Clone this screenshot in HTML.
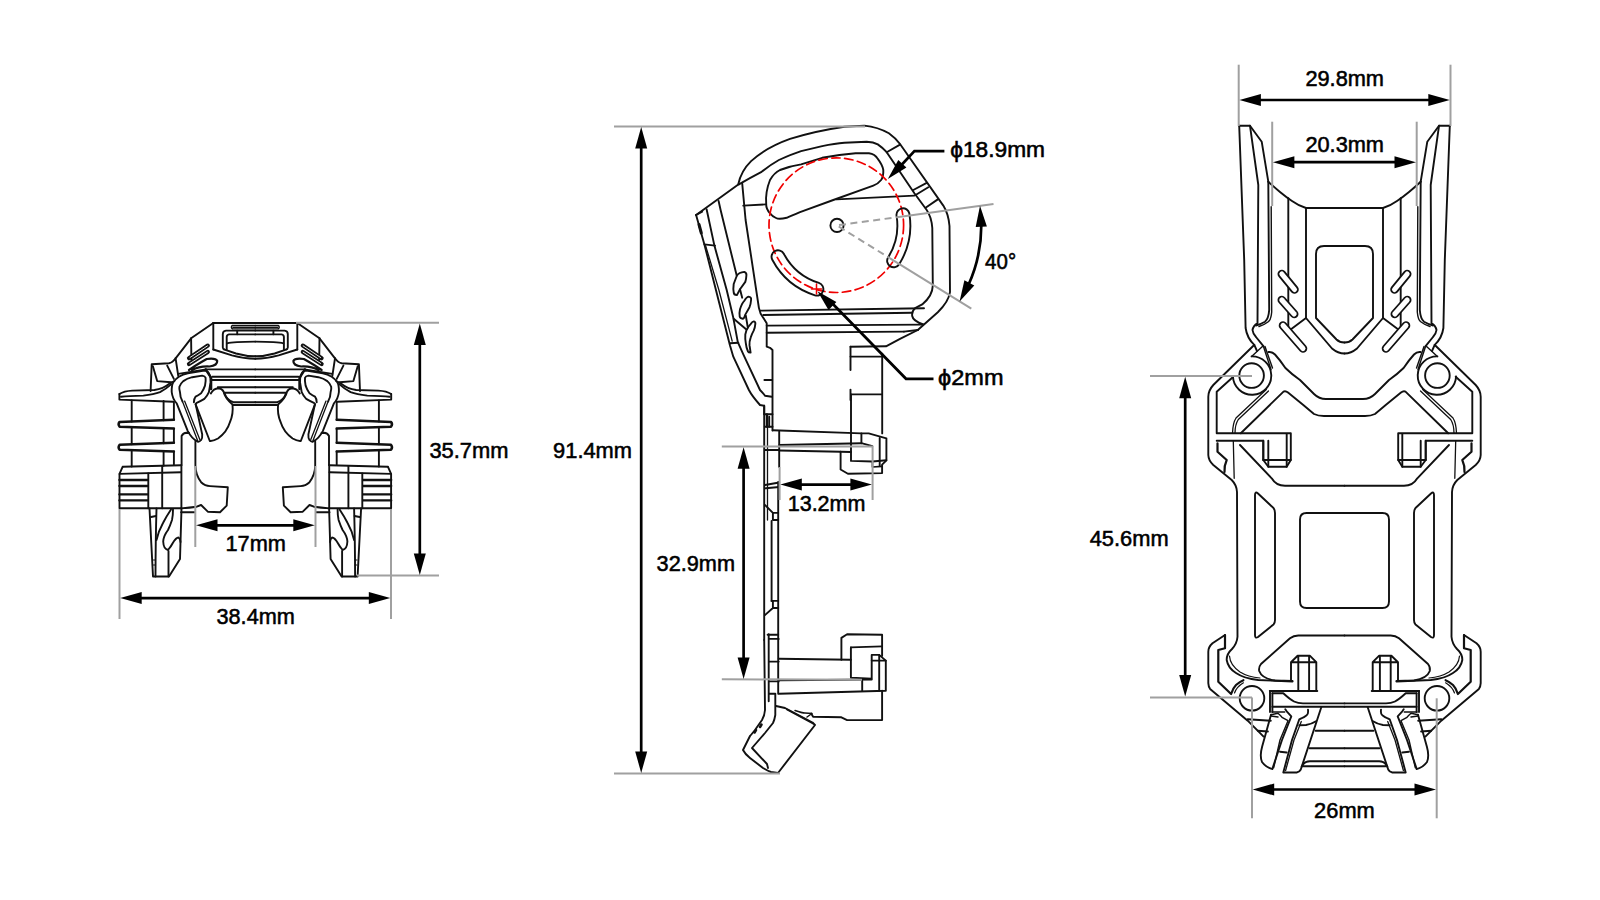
<!DOCTYPE html>
<html><head><meta charset="utf-8"><style>
html,body{margin:0;padding:0;background:#fff;}
svg{display:block;}
text{font-family:"Liberation Sans",sans-serif;fill:#000;stroke:#000;stroke-width:0.55px;}
</style></head><body>
<svg width="1600" height="900" viewBox="0 0 1600 900">
<rect width="1600" height="900" fill="#fff"/>
<g fill="none" stroke="#111" stroke-width="1.9" stroke-linejoin="round" stroke-linecap="round">
<g><path d="M213.3,323 L255.3,323"/>
<path d="M213.3,323 L213.3,349.5"/>
<path d="M213.3,349.5 L232,355.4 Q244,358.8 255.3,358.8"/>
<path d="M223.9,349.4 L236,353.5 Q246,356.3 255.3,356.3"/>
<path d="M232.5,325.4 L255.3,325.4 M232.5,328.9 L255.3,328.9 M232.5,325.4 Q230.2,327.1 232.5,328.9" stroke-width="1.4"/>
<path d="M233,327.2 L255.3,327.2" stroke-width="1.6"/>
<path d="M255.3,330.6 L226,330.6 Q222.8,331 222.8,334 L222.8,347.5 Q223,349.2 224.2,349.4"/>
<path d="M255.3,334.4 L229,334.4 Q226.7,334.8 226.7,337 L226.7,349.8"/>
<path d="M227.2,343.3 Q233,341.8 255.3,341.6"/>
<path d="M237.2,330.6 L237.2,334.2"/>
<path d="M213.3,323 L191.1,338.3 L175.6,358.3 Q172.5,362.8 168.9,363.3 L151.7,364.2 L150.6,391"/>
<path d="M191.1,338.3 L191.4,360"/>
<path d="M152.8,366.1 L157.2,381.1 L171.1,382.2"/>
<path d="M167.2,365.6 L173.9,378.9"/>
<path d="M175.6,358.3 L178.3,376.1"/>
<path d="M178.3,373.9 L206.1,369.4"/>
<path d="M189,358.2 L207.8,345.6 M189,364.1 L207.8,351.9" stroke-width="4.2"/>
<path d="M190,357.5 L207.4,345.9 M190,363.4 L207.4,352.2" stroke="#fff" stroke-width="0.9"/>
<path d="M189,370 Q196,365 206.7,359 Q216,357.8 217.2,361 Q217.5,365.5 209.4,366.5 Q199,366 192,370.2" stroke-width="2.2"/>
<path d="M205.6,369.4 L255.3,369.4"/>
<path d="M212.2,376.7 L255.3,376.7"/>
<path d="M211.6,380 L255.3,380"/>
<path d="M217.8,387.2 L255.3,387.2"/>
<path d="M224.4,392.8 L255.3,392.8"/>
<path d="M224.4,392.8 Q226.5,400 233.3,402.2 L255.3,402.2"/>
<path d="M232.8,405 L255.3,405"/>
<path d="M205.6,369.4 L211.1,377.8 L211.1,389" stroke-width="2.4"/>
<path d="M210.8,393.5 Q213.5,388.5 218.5,388.2 Q222,388.5 223.5,391.5 Q225,398 232.5,404.5 Q233.5,414 230,422 Q227,432 218,438.5 Q212.5,441.5 209.8,441 L195.6,404.4"/>
<path d="M119.4,394 L119.4,399.6 L173.3,401.7"/>
<path d="M119.4,394 Q124,391 132.2,390.6 L154.4,390 Q163,389 170,383.3 L174.4,381"/>
<path d="M121,396.7 Q128,396.2 143.3,395.6 Q154,394.5 160,392.2 Q166,389 171.1,384.4"/>
<path d="M173.9,419.7 L119.6,421.9 Q117.6,424.3 119.6,426.7 L173.9,428.6" stroke-width="2.5"/>
<path d="M173.9,442.8 L119.6,444.7 Q117.6,447.2 119.6,449.7 L173.9,451.4" stroke-width="2.5"/>
<path d="M131.7,400.5 L131.7,421.5 M131.7,427 L131.7,444.3 M131.7,450 L131.7,466.5"/>
<path d="M173.9,402 L173.9,419.7 M173.9,428.6 L173.9,442.8 M173.9,451.4 L173.9,464.6"/>
<path d="M176.7,403.3 Q172.5,399 171.7,392 Q171.5,385 173.3,382.2 Q176,378.5 178.9,376.7 Q183,374.3 187.8,373.3 L204.4,370.6 Q208.5,371 209.4,374.4 Q211,378 210.6,382.2 L208.9,392.2 Q207,396.5 204.4,398.9 Q200,401.5 196.7,402.8 L195.6,404 L202.2,434.4 Q202.5,438.5 201.1,440 Q199.5,442 197.8,441.7 Q192,439 187.8,431.1 Z"/>
<path d="M182.5,401.5 Q180,397 180,392.2 Q179,389 179.4,386.7 Q180.5,383.5 183.3,381.1 Q187,378.5 192.2,377.2 L202.2,375.6 Q205,376 205.6,377.8 Q206,381 205,385.6 Q203.5,390 201.1,393.3 Q198,395.5 195.6,396.7 Q193.8,399 193.9,402.2"/>
<path d="M182.5,401.5 L197.6,440.4 M184.6,401.1 L199.8,439.4" stroke-width="1.3"/>
<path d="M181.6,465 L181.6,436 Q183,433 186.7,432.8 L189,433"/>
<path d="M195.4,441.5 L195.4,465.5 Q195.6,475 201.1,482.2 Q205,486 210,486.1 L227.8,487.2 L226.7,505.6 L220,512.2 L207.8,511.7 L201.1,505 L196.7,506.7 Q190,507.6 181.1,508.4"/>
<path d="M123,466.7 L181.1,465.3"/>
<path d="M122.6,466.8 L119.5,473.9 L119.5,508.3 L181.1,508.3"/>
<path d="M119.6,473.9 L181.1,472.2"/>
<path d="M148.3,473.5 L148.3,508.3"/>
<path d="M162.2,466.4 L162.2,508.3"/>
<path d="M181.4,465.3 L181.4,508.3"/>
<path d="M181.1,512.2 L194.4,512.2"/>
<path d="M119.4,480 L147.5,480 M119.4,486 L147.5,486 M119.4,494.4 L147.5,494.4 M119.4,500.4 L147.5,500.4" stroke-width="2.3"/>
<path d="M149.5,508.5 L153,576.5 L169,576.5 L180,559 L181.5,508.5"/>
<path d="M156.5,508.5 Q155.6,540 155.5,576.5"/>
<path d="M151,517 L156,516"/>
<path d="M171,509.5 Q166,517 163,523 Q158.5,531 156.5,540"/>
<path d="M173,509.5 Q173,516 172,520 Q170,526 168,530 Q163.5,536 163.2,541.5 Q163.5,549 168,550 Q171,546.5 172.5,543.5 Q176,537.5 178.5,537.5 Q180.5,539 180.5,542"/>
<path d="M168.5,551 L168.5,576.5"/>
<path d="M153.5,560 L155.5,560 M153.5,565 L155.5,565" stroke-width="1"/><path d="M163.6,401 L163.6,420.2 M163.6,428.3 L163.6,443.2 M163.6,451.2 L163.6,465.8"/></g>
<g transform="translate(510.6,0) scale(-1,1)"><path d="M213.3,323 L255.3,323"/>
<path d="M213.3,323 L213.3,349.5"/>
<path d="M213.3,349.5 L232,355.4 Q244,358.8 255.3,358.8"/>
<path d="M223.9,349.4 L236,353.5 Q246,356.3 255.3,356.3"/>
<path d="M232.5,325.4 L255.3,325.4 M232.5,328.9 L255.3,328.9 M232.5,325.4 Q230.2,327.1 232.5,328.9" stroke-width="1.4"/>
<path d="M233,327.2 L255.3,327.2" stroke-width="1.6"/>
<path d="M255.3,330.6 L226,330.6 Q222.8,331 222.8,334 L222.8,347.5 Q223,349.2 224.2,349.4"/>
<path d="M255.3,334.4 L229,334.4 Q226.7,334.8 226.7,337 L226.7,349.8"/>
<path d="M227.2,343.3 Q233,341.8 255.3,341.6"/>
<path d="M237.2,330.6 L237.2,334.2"/>
<path d="M213.3,323 L191.1,338.3 L175.6,358.3 Q172.5,362.8 168.9,363.3 L151.7,364.2 L150.6,391"/>
<path d="M191.1,338.3 L191.4,360"/>
<path d="M152.8,366.1 L157.2,381.1 L171.1,382.2"/>
<path d="M167.2,365.6 L173.9,378.9"/>
<path d="M175.6,358.3 L178.3,376.1"/>
<path d="M178.3,373.9 L206.1,369.4"/>
<path d="M189,358.2 L207.8,345.6 M189,364.1 L207.8,351.9" stroke-width="4.2"/>
<path d="M190,357.5 L207.4,345.9 M190,363.4 L207.4,352.2" stroke="#fff" stroke-width="0.9"/>
<path d="M189,370 Q196,365 206.7,359 Q216,357.8 217.2,361 Q217.5,365.5 209.4,366.5 Q199,366 192,370.2" stroke-width="2.2"/>
<path d="M205.6,369.4 L255.3,369.4"/>
<path d="M212.2,376.7 L255.3,376.7"/>
<path d="M211.6,380 L255.3,380"/>
<path d="M217.8,387.2 L255.3,387.2"/>
<path d="M224.4,392.8 L255.3,392.8"/>
<path d="M224.4,392.8 Q226.5,400 233.3,402.2 L255.3,402.2"/>
<path d="M232.8,405 L255.3,405"/>
<path d="M205.6,369.4 L211.1,377.8 L211.1,389" stroke-width="2.4"/>
<path d="M210.8,393.5 Q213.5,388.5 218.5,388.2 Q222,388.5 223.5,391.5 Q225,398 232.5,404.5 Q233.5,414 230,422 Q227,432 218,438.5 Q212.5,441.5 209.8,441 L195.6,404.4"/>
<path d="M119.4,394 L119.4,399.6 L173.3,401.7"/>
<path d="M119.4,394 Q124,391 132.2,390.6 L154.4,390 Q163,389 170,383.3 L174.4,381"/>
<path d="M121,396.7 Q128,396.2 143.3,395.6 Q154,394.5 160,392.2 Q166,389 171.1,384.4"/>
<path d="M173.9,419.7 L119.6,421.9 Q117.6,424.3 119.6,426.7 L173.9,428.6" stroke-width="2.5"/>
<path d="M173.9,442.8 L119.6,444.7 Q117.6,447.2 119.6,449.7 L173.9,451.4" stroke-width="2.5"/>
<path d="M131.7,400.5 L131.7,421.5 M131.7,427 L131.7,444.3 M131.7,450 L131.7,466.5"/>
<path d="M173.9,402 L173.9,419.7 M173.9,428.6 L173.9,442.8 M173.9,451.4 L173.9,464.6"/>
<path d="M176.7,403.3 Q172.5,399 171.7,392 Q171.5,385 173.3,382.2 Q176,378.5 178.9,376.7 Q183,374.3 187.8,373.3 L204.4,370.6 Q208.5,371 209.4,374.4 Q211,378 210.6,382.2 L208.9,392.2 Q207,396.5 204.4,398.9 Q200,401.5 196.7,402.8 L195.6,404 L202.2,434.4 Q202.5,438.5 201.1,440 Q199.5,442 197.8,441.7 Q192,439 187.8,431.1 Z"/>
<path d="M182.5,401.5 Q180,397 180,392.2 Q179,389 179.4,386.7 Q180.5,383.5 183.3,381.1 Q187,378.5 192.2,377.2 L202.2,375.6 Q205,376 205.6,377.8 Q206,381 205,385.6 Q203.5,390 201.1,393.3 Q198,395.5 195.6,396.7 Q193.8,399 193.9,402.2"/>
<path d="M182.5,401.5 L197.6,440.4 M184.6,401.1 L199.8,439.4" stroke-width="1.3"/>
<path d="M181.6,465 L181.6,436 Q183,433 186.7,432.8 L189,433"/>
<path d="M195.4,441.5 L195.4,465.5 Q195.6,475 201.1,482.2 Q205,486 210,486.1 L227.8,487.2 L226.7,505.6 L220,512.2 L207.8,511.7 L201.1,505 L196.7,506.7 Q190,507.6 181.1,508.4"/>
<path d="M123,466.7 L181.1,465.3"/>
<path d="M122.6,466.8 L119.5,473.9 L119.5,508.3 L181.1,508.3"/>
<path d="M119.6,473.9 L181.1,472.2"/>
<path d="M148.3,473.5 L148.3,508.3"/>
<path d="M162.2,466.4 L162.2,508.3"/>
<path d="M181.4,465.3 L181.4,508.3"/>
<path d="M181.1,512.2 L194.4,512.2"/>
<path d="M119.4,480 L147.5,480 M119.4,486 L147.5,486 M119.4,494.4 L147.5,494.4 M119.4,500.4 L147.5,500.4" stroke-width="2.3"/>
<path d="M149.5,508.5 L153,576.5 L169,576.5 L180,559 L181.5,508.5"/>
<path d="M156.5,508.5 Q155.6,540 155.5,576.5"/>
<path d="M151,517 L156,516"/>
<path d="M171,509.5 Q166,517 163,523 Q158.5,531 156.5,540"/>
<path d="M173,509.5 Q173,516 172,520 Q170,526 168,530 Q163.5,536 163.2,541.5 Q163.5,549 168,550 Q171,546.5 172.5,543.5 Q176,537.5 178.5,537.5 Q180.5,539 180.5,542"/>
<path d="M168.5,551 L168.5,576.5"/>
<path d="M153.5,560 L155.5,560 M153.5,565 L155.5,565" stroke-width="1"/></g>
<g><path d="M738.3,184.2 Q741,171 751.1,161.1 Q766,147.5 790,138.9 Q815,131 844.4,126.7 L864.4,125.6 Q878,127 888.9,133.3 Q896,138.5 900,144 L943.3,205.6 Q948.5,214 949.5,226 L950,292.2 Q948.5,302 937.8,312.2 L917.8,330"/>
<path d="M738.9,184.4 Q750,178 761.1,172.2 Q770,165 778.9,160 Q792,154 801.1,151.1 L822.2,146.1 Q835,143.5 844.4,142.8 L866.7,141.7 Q873.5,142 877.8,144.4 Q883,148 886.7,152.2 L914.4,193.3 L926.7,210 Q931.5,217 932.3,228 L932.8,285.6 Q932.5,296 922.2,304.4 L915.6,307.8 Q911.5,311 912.2,316 Q913,321 923.3,324.4"/>
<path d="M886.7,152.2 L900,144.6 M913.3,190 L926.7,182.8 M915.6,195 L928.3,187.2 M925.6,207.8 L937.8,199.4"/>
<path d="M770,213.3 Q766,209 766.2,204 Q765.2,192 770,180 Q774,173 780,170 Q790,166 801.1,164.4 L822.2,157.8 Q840,154.5 855.6,153.3 L868.9,153.3 Q875,154 877.8,158.9 Q882.5,165 883.3,170 Q883.6,176.5 881.1,180 Q878,184 873.3,185.6 L833.3,200 L800,212.2 Q790,216.5 786.7,217.8 Q778.9,219.6 776,218 Q772,216.2 770,213.3Z"/>
<path d="M836.7,199.4 L914.4,195.6"/>
<path d="M743.3,205.6 L765.6,204.4"/>
<path d="M696.1,215 L738.3,184.4"/>
<path d="M742.2,183.3 L745.6,220 L758.9,307.8 Q760,314 763.3,317.8 L766.7,323.3 L766.7,346.7 L770,347.8 L772.5,350 L772.5,430.5"/>
<path d="M706.6,209.3 L714.4,245.6 L726.7,290 L733.3,317.8 L737.8,342.2 L743.3,354.4 L760,390 Q764,394 765,395.8 L771.7,396.7"/>
<path d="M718.6,201 L720.6,210 L736.7,275.6"/>
<path d="M696.1,215 L704.4,244.4 L730,345.6 L733.3,356.7 L748.9,390 Q752,396 760,405 L764.2,405.8 L764.2,640"/>
<path d="M702.2,211.7 L696.1,215"/>
<path d="M704.4,244.4 L715,245.6"/>
<path d="M705.6,245.6 L718.9,290 L732.2,341.1" stroke-width="1.3"/>
<path d="M730,343.3 L738.3,342.8"/>
<path d="M699,224.5 L701.3,233" stroke-width="3"/>
<path d="M736.9,275.5 Q739,272.5 744.3,271.9 Q746.8,272.8 746.4,275.5 Q746.2,279 745.3,281.9 L740,289.3 L736.9,295.1 Q733.8,295 733.7,292.4 Q733,289 733.7,284 Z"/>
<path d="M740,289.3 L742.2,297.7 M745.8,315.6 L747.8,327.5"/>
<path d="M740,309.3 Q742,303 744.3,300.9 Q746.5,297 748.5,296.6 Q751.5,297 751.1,299.8 Q750.8,304 749.5,307.2 L745.3,314.6 Q744,318.8 742.7,318.8 Q740,318.5 739.7,316.7 Q739,314 740,309.3 Z"/>
<path d="M746.4,330.4 Q748.5,326 750.6,324.1 Q752.5,321.5 753.8,321.4 Q755.8,322 755.3,324.1 Q755,327.5 753.8,330.4 Q751.8,334 750.6,337.8 Q749.2,341.5 749.5,345.2 L750.6,352.6 Q748.5,352.5 748,351.5 Q746.2,347.5 745.8,343.1 Q745,338.5 745.3,334.6 Z"/>
<path d="M733.7,318.8 L746.4,329.5"/>
<path d="M760.6,310.6 L924,308.3 M763.3,315 L912,312.8 M766.7,325.6 L923.3,324.6 M766.7,332.8 L904,331.6"/>
<path d="M904,331.6 L917.8,330"/>
<path d="M850.5,346.8 L886,346.3 L900,338.9 L917.8,330"/>
<path d="M850.5,346.8 L850.5,370.1 M850.5,389.6 L850.5,400"/>
<path d="M882.2,353.6 L882.2,433.4"/>
<path d="M850.5,356.6 L882.2,356.6"/>
<path d="M851,394.4 L881.5,394.4"/>
<path d="M851,394.5 L851,460.9 L872.4,461.5 L886.4,460.3"/>
<path d="M772.7,430.3 L861.4,433.4 L868.7,433.4 L886.4,438.3 L886.4,460.3 L882.1,464.6 L882.1,473.1 L847.9,473.7 L840.6,469.5 L840.6,451.7 L779.4,450.5"/>
<path d="M779.2,431.7 L779.2,467"/>
<path d="M840.6,451.7 L851,452"/>
<path d="M872.4,461.5 L872.4,467 L882.1,466.4" stroke-width="1.6"/>
<path d="M779.4,445 L861.4,443.2 L872.4,446.2"/>
<path d="M861.4,433.4 L861.4,443.2"/>
<path d="M879.7,438 L879.7,466"/>
<path d="M764.4,380 L772.2,380"/>
<path d="M767.5,414.2 L767.5,520" stroke-width="1.3"/>
<path d="M764.2,405.8 L764.2,414 M766.7,414.2 L766.7,426.7 M769.2,416.7 L769.2,426.7"/>
<path d="M764.2,414.2 L772.5,414.2 M764.8,426.7 L772.5,426.7"/>
<path d="M765,450 L779.2,450 M765,485 L779.2,482.5 M765.8,488.3 L779.2,487"/>
<path d="M778.2,482 L778.2,693.7"/>
<path d="M771.6,520.9 L771.6,600.9"/>
<path d="M764.9,504.9 L772.9,512.9 L778.2,512.9 M772.9,520 L778.2,520 M772.9,512.9 L772.9,520"/>
<path d="M771.6,600.9 L778.2,600.9 M764.9,615.1 L772.9,608 L778.2,608 M772.9,600.9 L772.9,608"/>
<path d="M767.6,634.7 L778.2,634.7"/>
<path d="M768.7,634.2 L768.7,701.2 M768.7,638.9 L778.7,638.9 M768.7,661.6 L778.7,661.6 M768.7,681.4 L778.7,681.4 M768.7,693.7 L775.3,693.7"/>
<path d="M778.7,658.7 L850.9,659.7"/>
<path d="M841.4,659.7 L841.4,637.9 L847.1,634.2 L882.1,634.7 L882.1,655.9"/>
<path d="M850.9,647.4 L882.1,646.4"/>
<path d="M850.9,647.4 L850.9,677.6 L871.7,678.6 L871.7,654.9 L879.2,654.9 L885.8,660.6 L885.8,690.8 L779.1,693.7"/>
<path d="M862.2,680.4 L862.2,690.8 M879.2,655 L879.2,690.8 M871.7,660.6 L885.8,660.6"/>
<path d="M779.1,680.4 L871.7,679.5"/>
<path d="M882.1,690.8 L882.1,720.1 L847.1,720.1 L841.4,717.3 L813.1,716.7 L811.2,713.5"/>
<path d="M764.2,640 L765,710 Q764.5,716 762,720 L755,730 Q751,735 750,736 L743,750 Q745,754 750,758 L763,768 Q768,771 771,772 L778,773 L815,725 L812.5,722.5 L785,708 L776,706"/>
<path d="M775.3,694 L775.3,715 Q774.5,720 773,723 L765,733 L752,748 L767,764 L768,768"/>
<path d="M787,709.5 L813,723.5"/>
<path d="M795,710.5 Q802,713 805,713 L812,713.5 L807,717" stroke-width="1.5"/>
<path d="M761.5,724.5 L760,727 M756,730 L754.5,732.5" stroke-width="2.6"/></g>
<circle cx="836.3" cy="225.2" r="67.3" stroke="#f00000" stroke-width="1.7" stroke-dasharray="8.5 4.5" fill="none"/>
<circle cx="837" cy="225.4" r="6.6"/>
<path d="M909.3,213.3 A73.3,73.3 0 0 1 899.2,264.2 A6.5,6.5 0 0 1 888.1,257.4 A60.3,60.3 0 0 0 896.5,215.4 A6.5,6.5 0 0 1 909.3,213.3Z"/>
<path d="M815.0,295.3 A73.3,73.3 0 0 1 772.3,259.8 A6.5,6.5 0 0 1 783.8,253.7 A60.3,60.3 0 0 0 818.9,282.9 A6.5,6.5 0 0 1 815.0,295.3Z"/>
<path d="M816.5,284 L816.5,294 M811.5,289 L821.5,289" stroke="#f00000" stroke-width="1.5"/>
<g><path d="M1239.2,125.8 L1250,125.8 L1261.7,141.7 L1268.3,181.7"/>
<path d="M1239.2,125.8 L1244.2,260 L1245.6,328 Q1247,338 1254.3,344.9"/>
<path d="M1250,125.8 L1258.3,185 L1257.5,323.3 Q1253.3,325.5 1252.5,330 Q1253,334 1256,337 L1263.2,345.8"/>
<path d="M1268.3,181.7 L1269.2,310 Q1268.5,319 1265,321.7 Q1261,324 1256,325.5"/>
<path d="M1271.2,206.7 L1271.7,312 Q1271,320 1268.3,321.7 Q1264,325 1259,326.5" stroke-width="1.4"/>
<path d="M1268.3,181.7 Q1274,187 1280,192 Q1286,197 1292,201 Q1299,206 1306,208 L1344.5,208"/>
<path d="M1288.3,198.3 L1288.3,330"/>
<path d="M1306,208 L1306,318 L1290,330"/>
<path d="M1316,254 Q1316,246 1324,246 L1344.5,246 M1316,254 L1316,318 L1336.5,339.5 Q1339.5,342.5 1344.5,342.5"/>
<path d="M1306,318 L1332,348.5 Q1338,353.5 1344.5,353.5"/>
<path d="M1281.8,274 L1294.5,289.5" stroke-width="8.6"/>
<path d="M1281.8,274 L1294.5,289.5" stroke="#fff" stroke-width="5"/>
<path d="M1281.8,300 L1294.2,314" stroke-width="8.6"/>
<path d="M1281.8,300 L1294.2,314" stroke="#fff" stroke-width="5"/>
<path d="M1283,325.5 L1303,348.5" stroke-width="8.6"/>
<path d="M1283,325.5 L1303,348.5" stroke="#fff" stroke-width="5"/>
<circle cx="1251.6" cy="375.6" r="12.3"/>
<path d="M1251.6,356.4 A19.2,19.2 0 1 1 1232.9,376.5"/>
<path d="M1251.6,356.4 L1263.2,345.8 L1271,369.5 M1265,346.5 L1272.5,368" stroke-width="1.4"/>
<path d="M1254.3,344.9 L1257,351"/>
<path d="M1253.4,345.8 L1213.3,385 Q1208.3,390.5 1208.3,396.7 L1208.3,455 Q1208.5,460.5 1213.3,465 L1231.7,480 Q1236.7,485 1237,492 L1237.5,636.7 Q1237,643.5 1232,649 Q1226.5,654 1226.7,660 Q1228,668 1236,673 Q1244,678.5 1258.3,680 L1292.5,681.5"/>
<path d="M1229.5,656 Q1230,665 1240,672 Q1248,677 1260,678" stroke-width="1.2"/>
<path d="M1233.3,376.7 L1216.7,391.7 L1216.7,433.3 L1290.8,433.3 L1290.8,460 L1286.7,466.7 L1268.3,466.7 L1263.3,460 L1263.3,440.8 L1216.7,440.8"/>
<path d="M1268.3,440.8 L1268.3,466.7 M1286.7,434 L1286.7,466.7 M1263.3,460 L1290.8,460"/>
<path d="M1217.5,443.3 L1217.5,451.7 L1226.7,460 Q1224,466 1224.5,472" stroke-width="2.2"/>
<path d="M1233.3,441 L1234.2,478.3" stroke-width="1.3"/>
<path d="M1266.3,389.5 L1236,418 Q1232.8,423 1232.5,433.3 M1268.5,391 L1238.3,419.5 Q1235,424.5 1235,433.3" stroke-width="1.3"/>
<path d="M1240.8,433.3 L1283.5,391.6 Q1285.5,390.5 1288,392.5 L1303.3,405 L1314,414 Q1318,416 1324,416 L1344.5,416"/>
<path d="M1268.5,352 Q1272,351.5 1275,354.5 Q1280,360 1285.4,368 Q1292,374.5 1300,380 L1314,394 Q1319,399 1326,399 L1344.5,399"/>
<path d="M1240,445 L1271.7,478.3 Q1276,485.8 1285,485.8 L1344.5,485.8"/>
<path d="M1255,495 Q1255,491 1258,493.5 L1273.5,508 Q1275,510 1275,513 L1275,620 Q1275,623 1273.5,624.5 L1258,637 Q1255,639 1255,635 Z"/>
<path d="M1300,519.5 Q1300,513 1306.5,513 L1344.5,513 M1300,519.5 L1300,601.5 Q1300,608 1306.5,608 L1344.5,608"/>
<path d="M1292.5,681 L1275,680.5 Q1262,678.5 1259.2,671 Q1258.5,667 1261,664 L1290,638.3 Q1293.5,635.5 1298.3,635.5 L1344.5,635.5"/>
<path d="M1291,681 L1291,662.2 L1297.6,655.7 L1309.8,655.7 L1316.3,662.2 L1316.3,691.1 M1291,662.2 L1316.3,662.2 M1298.3,655.7 L1298.3,691 M1309.1,655.7 L1309.1,691"/>
<path d="M1263.3,440.8 L1263.3,460"/>
<path d="M1225,635 L1212.5,643.3 Q1208.3,647 1208.3,651.7 L1208.3,683.1 Q1208.5,687 1210.1,688.9 L1247.7,720.7 L1263.6,736.6"/>
<path d="M1225,635 L1225,648.3 L1218.3,650 L1218.3,681.7 L1231.1,694 Q1233,688 1236,685 Q1240,681.5 1243.4,680.2" stroke-width="2.2"/>
<path d="M1234.5,693 Q1236.5,687 1243.4,682.8" stroke-width="1.2"/>
<circle cx="1252" cy="698.3" r="12.3"/>
<path d="M1247.7,719.2 L1270.8,720.7 M1257.8,730.8 L1267.9,731.5"/>
<path d="M1269.8,691 L1317.3,691"/>
<path d="M1270,691 L1270,712 M1272.4,693.3 L1272.4,712"/>
<path d="M1272.4,693.3 L1283.3,693.3 Q1290,699.5 1294,701.5 Q1298,703.4 1303,703.4 L1344.5,703.4"/>
<path d="M1272.4,706.8 L1344.5,706.8"/>
<path d="M1272,712 L1284.7,712 M1271,716 L1278,717" stroke-width="1.5"/>
<path d="M1271,714.7 L1262.1,746.7 Q1259.5,756 1262,762 Q1266,767.5 1272.3,769.1 L1282,740 L1291.3,716.3 L1286.7,711.3 L1285.3,709.3"/>
<path d="M1271,714.7 L1278,713.3 Q1281,716 1282,717.3 L1288,720.7 L1280,740 L1273.7,767.7" stroke-width="1.4"/>
<path d="M1308,709.7 Q1308.5,714 1306.7,715.3 Q1304,717.5 1301.3,718.3 L1299.3,719.3 L1292,740 L1283.3,772.5 L1296.7,772.5 Q1299.5,772 1300.8,769.5 L1321.3,707.3"/>
<path d="M1301.3,721.5 L1294,740 L1285.6,770.5" stroke-width="1.3"/>
<path d="M1316,721.3 Q1312,724 1306,725 L1299.3,725.3"/>
<path d="M1315.6,730.8 L1344.5,730.8 M1309.6,748.2 L1344.5,748.2"/>
<path d="M1301.7,766.7 Q1304,761.2 1309.8,761.2 L1344.5,761.2 M1303.5,766.2 L1344.5,766.2"/>
<path d="M1280,751.7 L1286.7,752.5"/></g>
<g transform="translate(2689.0,0) scale(-1,1)"><path d="M1239.2,125.8 L1250,125.8 L1261.7,141.7 L1268.3,181.7"/>
<path d="M1239.2,125.8 L1244.2,260 L1245.6,328 Q1247,338 1254.3,344.9"/>
<path d="M1250,125.8 L1258.3,185 L1257.5,323.3 Q1253.3,325.5 1252.5,330 Q1253,334 1256,337 L1263.2,345.8"/>
<path d="M1268.3,181.7 L1269.2,310 Q1268.5,319 1265,321.7 Q1261,324 1256,325.5"/>
<path d="M1271.2,206.7 L1271.7,312 Q1271,320 1268.3,321.7 Q1264,325 1259,326.5" stroke-width="1.4"/>
<path d="M1268.3,181.7 Q1274,187 1280,192 Q1286,197 1292,201 Q1299,206 1306,208 L1344.5,208"/>
<path d="M1288.3,198.3 L1288.3,330"/>
<path d="M1306,208 L1306,318 L1290,330"/>
<path d="M1316,254 Q1316,246 1324,246 L1344.5,246 M1316,254 L1316,318 L1336.5,339.5 Q1339.5,342.5 1344.5,342.5"/>
<path d="M1306,318 L1332,348.5 Q1338,353.5 1344.5,353.5"/>
<path d="M1281.8,274 L1294.5,289.5" stroke-width="8.6"/>
<path d="M1281.8,274 L1294.5,289.5" stroke="#fff" stroke-width="5"/>
<path d="M1281.8,300 L1294.2,314" stroke-width="8.6"/>
<path d="M1281.8,300 L1294.2,314" stroke="#fff" stroke-width="5"/>
<path d="M1283,325.5 L1303,348.5" stroke-width="8.6"/>
<path d="M1283,325.5 L1303,348.5" stroke="#fff" stroke-width="5"/>
<circle cx="1251.6" cy="375.6" r="12.3"/>
<path d="M1251.6,356.4 A19.2,19.2 0 1 1 1232.9,376.5"/>
<path d="M1251.6,356.4 L1263.2,345.8 L1271,369.5 M1265,346.5 L1272.5,368" stroke-width="1.4"/>
<path d="M1254.3,344.9 L1257,351"/>
<path d="M1253.4,345.8 L1213.3,385 Q1208.3,390.5 1208.3,396.7 L1208.3,455 Q1208.5,460.5 1213.3,465 L1231.7,480 Q1236.7,485 1237,492 L1237.5,636.7 Q1237,643.5 1232,649 Q1226.5,654 1226.7,660 Q1228,668 1236,673 Q1244,678.5 1258.3,680 L1292.5,681.5"/>
<path d="M1229.5,656 Q1230,665 1240,672 Q1248,677 1260,678" stroke-width="1.2"/>
<path d="M1233.3,376.7 L1216.7,391.7 L1216.7,433.3 L1290.8,433.3 L1290.8,460 L1286.7,466.7 L1268.3,466.7 L1263.3,460 L1263.3,440.8 L1216.7,440.8"/>
<path d="M1268.3,440.8 L1268.3,466.7 M1286.7,434 L1286.7,466.7 M1263.3,460 L1290.8,460"/>
<path d="M1217.5,443.3 L1217.5,451.7 L1226.7,460 Q1224,466 1224.5,472" stroke-width="2.2"/>
<path d="M1233.3,441 L1234.2,478.3" stroke-width="1.3"/>
<path d="M1266.3,389.5 L1236,418 Q1232.8,423 1232.5,433.3 M1268.5,391 L1238.3,419.5 Q1235,424.5 1235,433.3" stroke-width="1.3"/>
<path d="M1240.8,433.3 L1283.5,391.6 Q1285.5,390.5 1288,392.5 L1303.3,405 L1314,414 Q1318,416 1324,416 L1344.5,416"/>
<path d="M1268.5,352 Q1272,351.5 1275,354.5 Q1280,360 1285.4,368 Q1292,374.5 1300,380 L1314,394 Q1319,399 1326,399 L1344.5,399"/>
<path d="M1240,445 L1271.7,478.3 Q1276,485.8 1285,485.8 L1344.5,485.8"/>
<path d="M1255,495 Q1255,491 1258,493.5 L1273.5,508 Q1275,510 1275,513 L1275,620 Q1275,623 1273.5,624.5 L1258,637 Q1255,639 1255,635 Z"/>
<path d="M1300,519.5 Q1300,513 1306.5,513 L1344.5,513 M1300,519.5 L1300,601.5 Q1300,608 1306.5,608 L1344.5,608"/>
<path d="M1292.5,681 L1275,680.5 Q1262,678.5 1259.2,671 Q1258.5,667 1261,664 L1290,638.3 Q1293.5,635.5 1298.3,635.5 L1344.5,635.5"/>
<path d="M1291,681 L1291,662.2 L1297.6,655.7 L1309.8,655.7 L1316.3,662.2 L1316.3,691.1 M1291,662.2 L1316.3,662.2 M1298.3,655.7 L1298.3,691 M1309.1,655.7 L1309.1,691"/>
<path d="M1263.3,440.8 L1263.3,460"/>
<path d="M1225,635 L1212.5,643.3 Q1208.3,647 1208.3,651.7 L1208.3,683.1 Q1208.5,687 1210.1,688.9 L1247.7,720.7 L1263.6,736.6"/>
<path d="M1225,635 L1225,648.3 L1218.3,650 L1218.3,681.7 L1231.1,694 Q1233,688 1236,685 Q1240,681.5 1243.4,680.2" stroke-width="2.2"/>
<path d="M1234.5,693 Q1236.5,687 1243.4,682.8" stroke-width="1.2"/>
<circle cx="1252" cy="698.3" r="12.3"/>
<path d="M1247.7,719.2 L1270.8,720.7 M1257.8,730.8 L1267.9,731.5"/>
<path d="M1269.8,691 L1317.3,691"/>
<path d="M1270,691 L1270,712 M1272.4,693.3 L1272.4,712"/>
<path d="M1272.4,693.3 L1283.3,693.3 Q1290,699.5 1294,701.5 Q1298,703.4 1303,703.4 L1344.5,703.4"/>
<path d="M1272.4,706.8 L1344.5,706.8"/>
<path d="M1272,712 L1284.7,712 M1271,716 L1278,717" stroke-width="1.5"/>
<path d="M1271,714.7 L1262.1,746.7 Q1259.5,756 1262,762 Q1266,767.5 1272.3,769.1 L1282,740 L1291.3,716.3 L1286.7,711.3 L1285.3,709.3"/>
<path d="M1271,714.7 L1278,713.3 Q1281,716 1282,717.3 L1288,720.7 L1280,740 L1273.7,767.7" stroke-width="1.4"/>
<path d="M1308,709.7 Q1308.5,714 1306.7,715.3 Q1304,717.5 1301.3,718.3 L1299.3,719.3 L1292,740 L1283.3,772.5 L1296.7,772.5 Q1299.5,772 1300.8,769.5 L1321.3,707.3"/>
<path d="M1301.3,721.5 L1294,740 L1285.6,770.5" stroke-width="1.3"/>
<path d="M1316,721.3 Q1312,724 1306,725 L1299.3,725.3"/>
<path d="M1315.6,730.8 L1344.5,730.8 M1309.6,748.2 L1344.5,748.2"/>
<path d="M1301.7,766.7 Q1304,761.2 1309.8,761.2 L1344.5,761.2 M1303.5,766.2 L1344.5,766.2"/>
<path d="M1280,751.7 L1286.7,752.5"/></g>
</g>
<line x1="296" y1="322.7" x2="439" y2="322.7" stroke="#a0a0a0" stroke-width="2.0"/>
<line x1="357" y1="575.6" x2="439" y2="575.6" stroke="#a0a0a0" stroke-width="2.0"/>
<line x1="419.8" y1="343.0" x2="419.8" y2="555.5" stroke="#000" stroke-width="2.7"/><path d="M419.8,323.5L425.8,345.0L413.8,345.0Z" fill="#000"/><path d="M419.8,575.0L413.8,553.5L425.8,553.5Z" fill="#000"/>
<line x1="119.5" y1="509" x2="119.5" y2="619" stroke="#a0a0a0" stroke-width="2.0"/>
<line x1="391" y1="509" x2="391" y2="619" stroke="#a0a0a0" stroke-width="2.0"/>
<line x1="139.7" y1="598.1" x2="370.8" y2="598.1" stroke="#000" stroke-width="2.7"/><path d="M120.2,598.1L141.7,592.1L141.7,604.1Z" fill="#000"/><path d="M390.3,598.1L368.8,604.1L368.8,592.1Z" fill="#000"/>
<line x1="195.3" y1="466" x2="195.3" y2="547" stroke="#a0a0a0" stroke-width="2.0"/>
<line x1="315.5" y1="466" x2="315.5" y2="547" stroke="#a0a0a0" stroke-width="2.0"/>
<line x1="215.5" y1="525.3" x2="295.3" y2="525.3" stroke="#000" stroke-width="2.7"/><path d="M196.0,525.3L217.5,519.3L217.5,531.3Z" fill="#000"/><path d="M314.8,525.3L293.3,531.3L293.3,519.3Z" fill="#000"/>
<text x="429.4" y="457.8" font-size="22" textLength="79.0" lengthAdjust="spacingAndGlyphs">35.7mm</text>
<text x="216.5" y="624.3" font-size="22" textLength="78.3" lengthAdjust="spacingAndGlyphs">38.4mm</text>
<text x="225.5" y="551.1" font-size="22" textLength="60.4" lengthAdjust="spacingAndGlyphs">17mm</text>
<line x1="614" y1="126.4" x2="865" y2="126.4" stroke="#a0a0a0" stroke-width="2.0"/>
<line x1="614" y1="773.5" x2="780" y2="773.5" stroke="#a0a0a0" stroke-width="2.0"/>
<line x1="641.2" y1="146.5" x2="641.2" y2="753.5" stroke="#000" stroke-width="2.7"/><path d="M641.2,127.0L647.2,148.5L635.2,148.5Z" fill="#000"/><path d="M641.2,773.0L635.2,751.5L647.2,751.5Z" fill="#000"/>
<text x="553.1" y="457.8" font-size="22" textLength="78.9" lengthAdjust="spacingAndGlyphs">91.4mm</text>
<line x1="721.8" y1="446.6" x2="873" y2="446.6" stroke="#a0a0a0" stroke-width="2.0"/>
<line x1="721.8" y1="679.2" x2="862" y2="679.8" stroke="#a0a0a0" stroke-width="2.0"/>
<line x1="743.6" y1="466.7" x2="743.6" y2="659.5" stroke="#000" stroke-width="2.7"/><path d="M743.6,447.2L749.6,468.7L737.6,468.7Z" fill="#000"/><path d="M743.6,679.0L737.6,657.5L749.6,657.5Z" fill="#000"/>
<text x="656.6" y="571.2" font-size="22" textLength="78.4" lengthAdjust="spacingAndGlyphs">32.9mm</text>
<line x1="779.6" y1="467" x2="779.6" y2="500" stroke="#a0a0a0" stroke-width="2.0"/>
<line x1="872.6" y1="446.6" x2="872.6" y2="500" stroke="#a0a0a0" stroke-width="2.0"/>
<line x1="799.8" y1="484.6" x2="852.4" y2="484.6" stroke="#000" stroke-width="2.7"/><path d="M780.3,484.6L801.8,478.6L801.8,490.6Z" fill="#000"/><path d="M871.9,484.6L850.4,490.6L850.4,478.6Z" fill="#000"/>
<text x="787.7" y="510.5" font-size="22" textLength="77.8" lengthAdjust="spacingAndGlyphs">13.2mm</text>
<text x="950.2" y="157.3" font-size="22" textLength="94.8" lengthAdjust="spacingAndGlyphs">&#x3D5;18.9mm</text>
<text x="985.1" y="268.7" font-size="22" textLength="31.0" lengthAdjust="spacingAndGlyphs">40°</text>
<text x="938.1" y="385" font-size="22" textLength="65.4" lengthAdjust="spacingAndGlyphs">&#x3D5;2mm</text>
<line x1="839.0" y1="225.1" x2="896.9" y2="217.2" stroke="#a0a0a0" stroke-width="2" stroke-dasharray="7 4.5"/>
<line x1="896.9" y1="217.2" x2="993.5" y2="204.0" stroke="#a0a0a0" stroke-width="2"/>
<line x1="838.7" y1="226.5" x2="889.7" y2="258.1" stroke="#a0a0a0" stroke-width="2" stroke-dasharray="7 4.5"/>
<line x1="889.7" y1="258.1" x2="971.3" y2="308.7" stroke="#a0a0a0" stroke-width="2"/>
<path d="M981.3,224.6 A144.3,144.3 0 0 1 968.5,284.8" fill="none" stroke="#000" stroke-width="2.7"/>
<path d="M980.0,205.8L986.9,226.4L975.7,227.1Z" fill="#000"/>
<path d="M959.6,301.4L964.4,280.2L974.3,285.4Z" fill="#000"/>
<path d="M944.4,151.1 L914.4,151.1 L900.5,166" fill="none" stroke="#000" stroke-width="2.7"/>
<path d="M887.8,178.9L898.3,159.9L906.4,167.6Z" fill="#000"/>
<path d="M933.5,378.8 L906,378.8 L829,300" fill="none" stroke="#000" stroke-width="2.7"/>
<path d="M817.5,291.2L836.4,302.0L828.5,310.0Z" fill="#000"/>
<line x1="1238.7" y1="64.7" x2="1238.7" y2="126" stroke="#a0a0a0" stroke-width="2.0"/>
<line x1="1450.5" y1="64.7" x2="1450.5" y2="126" stroke="#a0a0a0" stroke-width="2.0"/>
<line x1="1258.9" y1="100.0" x2="1430.3" y2="100.0" stroke="#000" stroke-width="2.7"/><path d="M1239.4,100.0L1260.9,94.0L1260.9,106.0Z" fill="#000"/><path d="M1449.8,100.0L1428.3,106.0L1428.3,94.0Z" fill="#000"/>
<text x="1305.4" y="85.8" font-size="22" textLength="78.6" lengthAdjust="spacingAndGlyphs">29.8mm</text>
<line x1="1272.2" y1="121.7" x2="1272.2" y2="206" stroke="#a0a0a0" stroke-width="2.0"/>
<line x1="1416.7" y1="121.7" x2="1416.7" y2="206" stroke="#a0a0a0" stroke-width="2.0"/>
<line x1="1292.4" y1="162.2" x2="1396.5" y2="162.2" stroke="#000" stroke-width="2.7"/><path d="M1272.9,162.2L1294.4,156.2L1294.4,168.2Z" fill="#000"/><path d="M1416.0,162.2L1394.5,168.2L1394.5,156.2Z" fill="#000"/>
<text x="1305.4" y="151.7" font-size="22" textLength="78.6" lengthAdjust="spacingAndGlyphs">20.3mm</text>
<line x1="1150" y1="376" x2="1252" y2="376" stroke="#a0a0a0" stroke-width="2.0"/>
<line x1="1150" y1="697.5" x2="1252" y2="697.5" stroke="#a0a0a0" stroke-width="2.0"/>
<line x1="1185.2" y1="396.2" x2="1185.2" y2="677.0" stroke="#000" stroke-width="2.7"/><path d="M1185.2,376.7L1191.2,398.2L1179.2,398.2Z" fill="#000"/><path d="M1185.2,696.5L1179.2,675.0L1191.2,675.0Z" fill="#000"/>
<text x="1089.7" y="546" font-size="22" textLength="78.9" lengthAdjust="spacingAndGlyphs">45.6mm</text>
<line x1="1252" y1="697.5" x2="1252" y2="818.3" stroke="#a0a0a0" stroke-width="2.0"/>
<line x1="1436.7" y1="698.3" x2="1436.7" y2="818.3" stroke="#a0a0a0" stroke-width="2.0"/>
<line x1="1272.2" y1="789.5" x2="1416.5" y2="789.5" stroke="#000" stroke-width="2.7"/><path d="M1252.7,789.5L1274.2,783.5L1274.2,795.5Z" fill="#000"/><path d="M1436.0,789.5L1414.5,795.5L1414.5,783.5Z" fill="#000"/>
<text x="1314.1" y="818.3" font-size="22" textLength="60.7" lengthAdjust="spacingAndGlyphs">26mm</text>
</svg>
</body></html>
